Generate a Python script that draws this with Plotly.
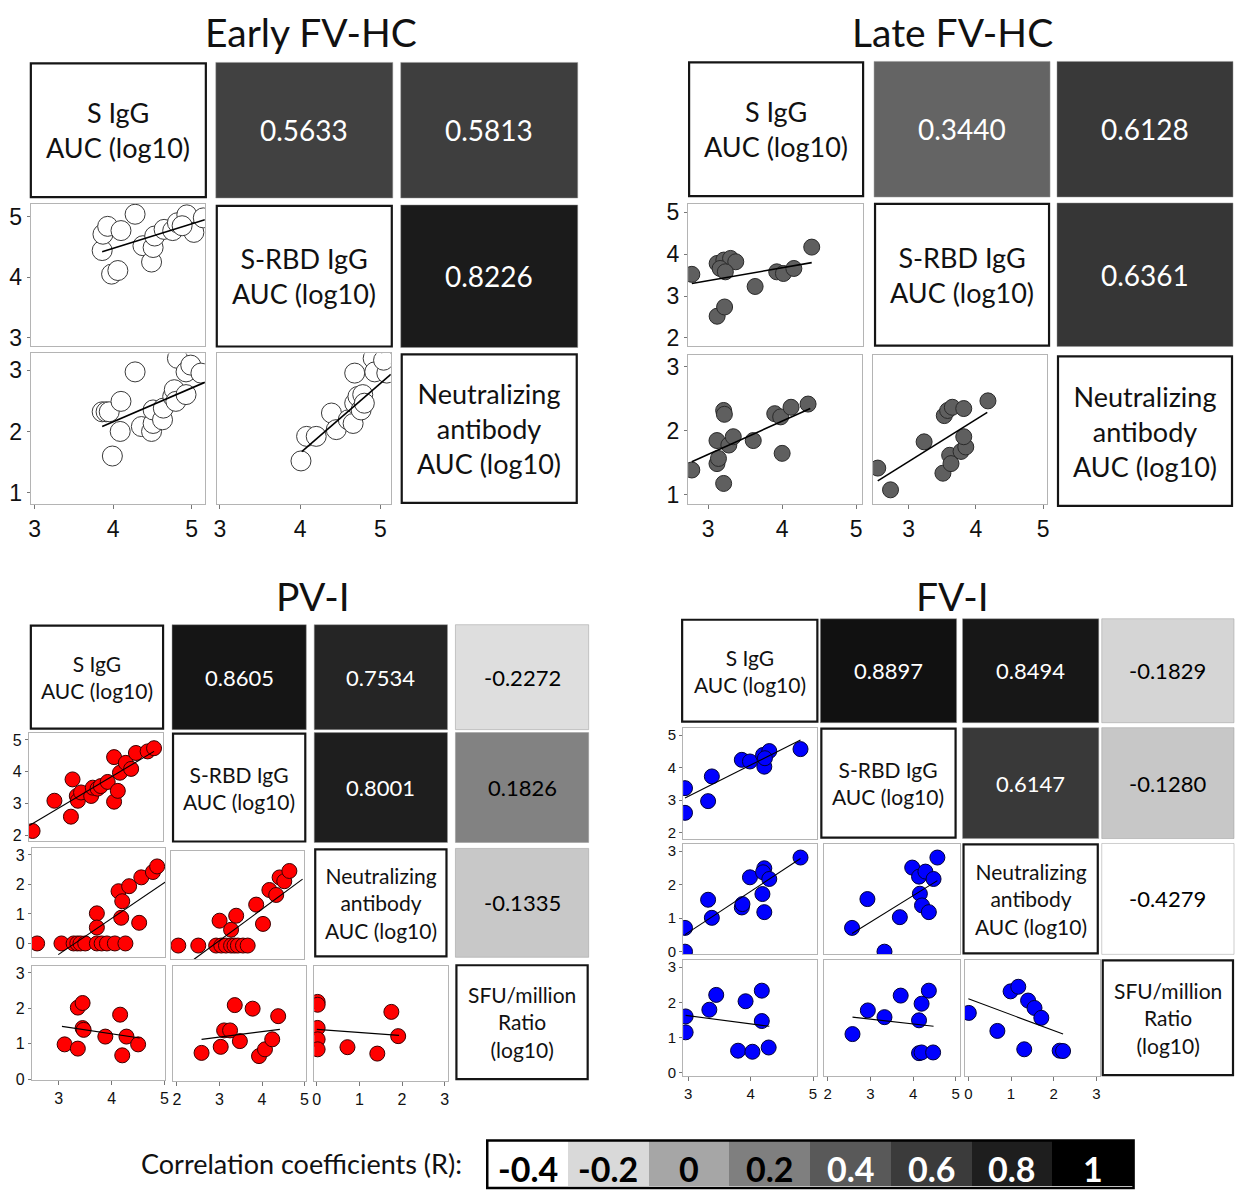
import plotly.graph_objects as go
from plotly.colors import sample_colorscale

W, H = 1238, 1194

# ---------------- DATA ----------------
var_labels_3 = ["S IgG<br>AUC (log10)", "S-RBD IgG<br>AUC (log10)",
                "Neutralizing<br>antibody<br>AUC (log10)"]
var_labels_4 = var_labels_3 + ["SFU/million<br>Ratio<br>(log10)"]

# correlation coefficients (upper triangle, row-major)
early_r = [0.5633, 0.5813, 0.8226]
late_r = [0.3440, 0.6128, 0.6361]
pvi_r = [0.8605, 0.7534, -0.2272, 0.8001, 0.1826, -0.1335]
fvi_r = [0.8897, 0.8494, -0.1829, 0.6147, -0.1280, -0.4279]

# Early FV-HC
e_sigg_srbd_x = [3.86, 3.87, 3.93, 4.10, 4.28, 3.98, 4.06, 4.38, 4.49, 4.51, 4.53, 4.65, 4.76, 4.82, 4.94, 5.03, 4.88, 5.15]
e_sigg_srbd_y = [4.44, 4.71, 4.84, 4.77, 5.04, 4.05, 4.11, 4.52, 4.25, 4.49, 4.68, 4.79, 4.77, 4.90, 5.03, 4.74, 4.85, 4.98]
e_sigg_srbd_fit_x = [3.86, 5.17]
e_sigg_srbd_fit_y = [4.42, 4.95]
e_sigg_neut_x = [3.86, 3.91, 3.95, 4.10, 4.28, 4.09, 3.99, 4.36, 4.49, 4.51, 4.51, 4.63, 4.64, 4.76, 4.78, 4.80, 4.93, 4.82, 4.93, 4.99, 5.12]
e_sigg_neut_y = [2.32, 2.32, 2.32, 2.49, 2.97, 2.00, 1.60, 2.08, 2.00, 2.13, 2.35, 2.19, 2.38, 2.57, 2.68, 2.49, 2.60, 3.19, 2.97, 3.08, 2.95]
e_sigg_neut_fit_x = [3.86, 5.17]
e_sigg_neut_fit_y = [2.08, 2.80]
e_srbd_neut_x = [4.01, 4.08, 4.20, 4.39, 4.45, 4.60, 4.66, 4.68, 4.72, 4.76, 4.78, 4.80, 4.68, 4.91, 4.93, 5.08, 5.04]
e_srbd_neut_y = [1.52, 1.92, 1.92, 2.30, 2.03, 2.19, 2.13, 2.46, 2.57, 2.35, 2.60, 2.46, 2.95, 3.19, 2.97, 2.95, 3.16]
e_srbd_neut_fit_x = [4.02, 5.13]
e_srbd_neut_fit_y = [1.67, 2.93]

# Late FV-HC
l_sigg_srbd_x = [2.78, 3.12, 3.22, 3.12, 3.21, 3.30, 3.37, 3.16, 3.23, 3.63, 3.92, 4.01, 4.15, 4.39]
l_sigg_srbd_y = [3.52, 2.52, 2.74, 3.78, 3.86, 3.90, 3.82, 3.66, 3.58, 3.23, 3.58, 3.54, 3.66, 4.17]
l_sigg_srbd_fit_x = [2.78, 4.39]
l_sigg_srbd_fit_y = [3.30, 3.80]
l_sigg_neut_x = [2.78, 3.12, 3.14, 3.12, 3.21, 3.22, 3.21, 3.28, 3.34, 3.61, 3.90, 3.98, 4.00, 4.12, 4.35]
l_sigg_neut_y = [1.39, 1.49, 1.57, 1.85, 2.32, 2.26, 1.18, 1.78, 1.91, 1.85, 2.27, 2.22, 1.65, 2.37, 2.42]
l_sigg_neut_fit_x = [2.78, 4.38]
l_sigg_neut_fit_y = [1.52, 2.35]
l_srbd_neut_x = [2.54, 2.73, 3.23, 3.51, 3.61, 3.63, 3.53, 3.58, 3.65, 3.82, 3.78, 3.85, 3.82, 4.18]
l_srbd_neut_y = [1.42, 1.08, 1.83, 1.34, 1.62, 1.49, 2.24, 2.32, 2.37, 2.35, 1.68, 1.75, 1.91, 2.47]
l_srbd_neut_fit_x = [2.54, 4.17]
l_srbd_neut_fit_y = [1.22, 2.29]

# PV-I
p_sigg_srbd_x = [2.56, 2.97, 3.28, 3.31, 3.39, 3.41, 3.47, 3.66, 3.69, 3.78, 3.84, 3.97, 4.09, 4.09, 4.16, 4.20, 4.31, 4.41, 4.50, 4.72, 4.84]
p_sigg_srbd_y = [2.14, 3.09, 2.59, 3.76, 3.24, 3.09, 3.35, 3.24, 3.50, 3.47, 3.55, 3.68, 4.46, 3.06, 3.40, 3.97, 4.28, 4.09, 4.59, 4.64, 4.74]
p_sigg_srbd_fit_x = [2.50, 4.84]
p_sigg_srbd_fit_y = [2.31, 4.64]
p_sigg_neut_x = [2.59, 3.05, 3.28, 3.35, 3.41, 3.50, 3.72, 3.81, 3.91, 4.06, 4.26, 3.72, 3.72, 4.13, 4.33, 4.20, 4.18, 4.52, 4.56, 4.78, 4.86]
p_sigg_neut_y = [0, 0, 0, 0, 0, 0, 0, 0, 0, 0, 0, 1.02, 0.54, 1.77, 1.94, 1.43, 0.87, 0.70, 2.24, 2.42, 2.61]
p_sigg_neut_fit_x = [2.99, 5.03]
p_sigg_neut_fit_y = [-0.38, 2.10]
p_srbd_neut_x = [2.08, 2.55, 2.97, 3.09, 3.20, 3.32, 3.40, 3.48, 3.60, 3.71, 3.05, 3.32, 3.44, 3.91, 4.07, 4.22, 4.38, 4.46, 4.57, 4.69]
p_srbd_neut_y = [0, 0, 0, 0, 0, 0, 0, 0, 0, 0, 0.85, 0.54, 1.02, 1.40, 0.74, 1.90, 1.73, 2.33, 2.20, 2.55]
p_srbd_neut_fit_x = [2.45, 5.00]
p_srbd_neut_fit_y = [-0.47, 2.27]
p_sigg_sfu_x = [3.11, 3.36, 3.36, 3.45, 3.45, 3.47, 3.88, 4.16, 4.20, 4.28, 4.50]
p_sigg_sfu_y = [0.98, 0.86, 2.02, 2.15, 1.44, 1.39, 1.20, 1.82, 0.67, 1.20, 0.98]
p_sigg_sfu_fit_x = [3.06, 4.53]
p_sigg_sfu_fit_y = [1.49, 1.16]
p_srbd_sfu_x = [2.58, 3.03, 3.11, 3.25, 3.36, 3.48, 3.78, 3.93, 4.07, 4.24, 4.38]
p_srbd_sfu_y = [0.76, 0.93, 1.39, 1.39, 2.10, 1.09, 2.00, 0.67, 0.86, 1.14, 1.79]
p_srbd_sfu_fit_x = [2.58, 4.42]
p_srbd_sfu_fit_y = [1.14, 1.42]
p_neut_sfu_x = [0.02, 0.02, 0.02, 0.02, 0.02, 0.72, 1.42, 1.75, 1.91]
p_neut_sfu_y = [2.19, 2.11, 1.46, 1.14, 0.86, 0.92, 0.74, 1.91, 1.23]
p_neut_sfu_fit_x = [0.0, 1.93]
p_neut_sfu_fit_y = [1.42, 1.25]

# FV-I
f_sigg_srbd_x = [2.95, 2.95, 3.32, 3.38, 3.86, 3.99, 4.20, 4.22, 4.30, 4.23, 4.80]
f_sigg_srbd_y = [3.37, 2.61, 2.97, 3.73, 4.24, 4.19, 4.39, 4.03, 4.51, 4.29, 4.57]
f_sigg_srbd_fit_x = [2.95, 4.80]
f_sigg_srbd_fit_y = [3.07, 4.85]
f_sigg_neut_x = [2.95, 2.95, 3.32, 3.38, 3.86, 3.87, 3.99, 4.19, 4.22, 4.22, 4.20, 4.30, 4.80]
f_sigg_neut_y = [0.71, 0.00, 1.55, 1.01, 1.32, 1.42, 2.22, 1.72, 1.18, 2.49, 2.37, 2.17, 2.81]
f_sigg_neut_fit_x = [2.95, 4.80]
f_sigg_neut_fit_y = [0.51, 2.78]
f_srbd_neut_x = [2.57, 2.93, 3.33, 3.69, 3.98, 4.14, 4.29, 4.16, 4.21, 4.37, 4.48, 4.57]
f_srbd_neut_y = [0.71, 1.57, 0.00, 1.03, 2.51, 2.24, 2.39, 1.73, 1.38, 1.18, 2.17, 2.81]
f_srbd_neut_fit_x = [2.57, 4.57]
f_srbd_neut_fit_y = [0.54, 2.12]
f_sigg_sfu_x = [2.96, 2.96, 3.34, 3.45, 3.80, 3.92, 4.03, 4.18, 4.18, 4.29]
f_sigg_sfu_y = [1.60, 1.15, 1.79, 2.21, 0.63, 2.03, 0.60, 2.33, 1.47, 0.72]
f_sigg_sfu_fit_x = [2.96, 4.30]
f_sigg_sfu_fit_y = [1.63, 1.32]
f_srbd_sfu_x = [2.58, 2.94, 3.33, 3.71, 4.14, 4.20, 4.37, 4.14, 4.20, 4.47]
f_srbd_sfu_y = [1.10, 1.77, 1.58, 2.19, 1.49, 1.96, 2.33, 0.56, 0.58, 0.58]
f_srbd_sfu_fit_x = [2.58, 4.48]
f_srbd_sfu_fit_y = [1.58, 1.32]
f_neut_sfu_x = [0.01, 0.68, 0.99, 1.17, 1.40, 1.55, 1.71, 1.31, 2.14, 2.22]
f_neut_sfu_y = [1.70, 1.19, 2.31, 2.44, 2.05, 1.84, 1.56, 0.67, 0.63, 0.62]
f_neut_sfu_fit_x = [0.0, 2.22]
f_neut_sfu_fit_y = [2.10, 1.10]

# legend
legend_vals = [-0.4, -0.2, 0, 0.2, 0.4, 0.6, 0.8, 1]
legend_tick_labels = ["-0.4", "-0.2", "0", "0.2", "0.4", "0.6", "0.8", "1"]
legend_colors = ["rgb(255,255,255)", "rgb(217,217,217)", "rgb(166,166,166)", "rgb(127,127,127)",
                 "rgb(89,89,89)", "rgb(59,59,59)", "rgb(30,30,30)", "rgb(0,0,0)"]

# ---------------- STYLE / LAYOUT ----------------
RMIN, RMAX = legend_vals[0], legend_vals[-1]
colorscale = [[(v - RMIN) / (RMAX - RMIN), c] for v, c in zip(legend_vals, legend_colors)]


def r_color(r):
    t = min(max((r - RMIN) / (RMAX - RMIN), 0.0), 1.0)
    return sample_colorscale(colorscale, [t])[0]


def text_color(r):
    return "white" if r >= 0.3 else "black"


def px(x):
    return x / W


def py(y):
    return 1 - y / H


TEXT_FONT = "Lato, Carlito, Calibri, 'Open Sans', sans-serif"
TICK_FONT = "Liberation Sans, Arial, Helvetica, sans-serif"

panels = [
    dict(title="Early FV-HC", tx=310, ty=28,
         labels=var_labels_3, r=early_r,
         cols=[(27, 205), (214, 392), (400, 578)],
         rows=[(59, 196), (203, 347), (353, 505)],
         frames={(1, 0): (28, 203, 202, 345), (2, 0): (28, 203, 353, 505), (2, 1): (215, 390, 353, 505)},
         xr=[[2.95, 5.17], [2.96, 5.13]], yr=[None, [2.87, 5.21], [0.82, 3.27]],
         xt=[[3, 4, 5], [3, 4, 5]], yt=[None, [3, 4, 5], [1, 2, 3]],
         data={(1, 0): (e_sigg_srbd_x, e_sigg_srbd_y, e_sigg_srbd_fit_x, e_sigg_srbd_fit_y),
               (2, 0): (e_sigg_neut_x, e_sigg_neut_y, e_sigg_neut_fit_x, e_sigg_neut_fit_y),
               (2, 1): (e_srbd_neut_x, e_srbd_neut_y, e_srbd_neut_fit_x, e_srbd_neut_fit_y)},
         marker=dict(color="white", size=20, line=dict(color="#3a3a3a", width=1)),
         fs_label=27, fs_r=28, fs_tick=23, lw=1.6),
    dict(title="Late FV-HC", tx=955, ty=28,
         labels=var_labels_3, r=late_r,
         cols=[(689, 866), (876, 1053), (1060, 1237)],
         rows=[(58, 195), (201, 346), (355, 508)],
         frames={(1, 0): (689, 865, 202, 345), (2, 0): (689, 864, 355, 505), (2, 1): (875, 1050, 355, 505)},
         xr=[[2.73, 5.08], [2.47, 5.06]], yr=[None, [1.82, 5.20], [0.86, 3.18]],
         xt=[[3, 4, 5], [3, 4, 5]], yt=[None, [2, 3, 4, 5], [1, 2, 3]],
         data={(1, 0): (l_sigg_srbd_x, l_sigg_srbd_y, l_sigg_srbd_fit_x, l_sigg_srbd_fit_y),
               (2, 0): (l_sigg_neut_x, l_sigg_neut_y, l_sigg_neut_fit_x, l_sigg_neut_fit_y),
               (2, 1): (l_srbd_neut_x, l_srbd_neut_y, l_srbd_neut_fit_x, l_srbd_neut_fit_y)},
         marker=dict(color="#5f5f5f", size=16, line=dict(color="#2a2a2a", width=1)),
         fs_label=27, fs_r=28, fs_tick=23, lw=1.6),
    dict(title="PV-I", tx=312, ty=598,
         labels=var_labels_4, r=pvi_r,
         cols=[(27, 162), (170, 305), (313, 447), (455, 589)],
         rows=[(627, 733), (736, 847), (853, 963), (970, 1087)],
         frames={(1, 0): (26, 161, 736, 846), (2, 0): (29, 163, 853, 963), (2, 1): (169, 303, 856, 965),
                 (3, 0): (29, 163, 972, 1087), (3, 1): (171, 305, 972, 1088), (3, 2): (313, 448, 972, 1088)},
         xr=[[2.49, 5.01], [1.91, 5.04], [-0.06, 3.09]],
         yr=[None, [1.81, 5.23], [-0.47, 3.22], [-0.03, 3.19]],
         xt=[[3, 4, 5], [2, 3, 4, 5], [0, 1, 2, 3]], yt=[None, [2, 3, 4, 5], [0, 1, 2, 3], [0, 1, 2, 3]],
         data={(1, 0): (p_sigg_srbd_x, p_sigg_srbd_y, p_sigg_srbd_fit_x, p_sigg_srbd_fit_y),
               (2, 0): (p_sigg_neut_x, p_sigg_neut_y, p_sigg_neut_fit_x, p_sigg_neut_fit_y),
               (2, 1): (p_srbd_neut_x, p_srbd_neut_y, p_srbd_neut_fit_x, p_srbd_neut_fit_y),
               (3, 0): (p_sigg_sfu_x, p_sigg_sfu_y, p_sigg_sfu_fit_x, p_sigg_sfu_fit_y),
               (3, 1): (p_srbd_sfu_x, p_srbd_sfu_y, p_srbd_sfu_fit_x, p_srbd_sfu_fit_y),
               (3, 2): (p_neut_sfu_x, p_neut_sfu_y, p_neut_sfu_fit_x, p_neut_sfu_fit_y)},
         marker=dict(color="#ff0000", size=15, line=dict(color="#3a0000", width=1)),
         fs_label=21, fs_r=22, fs_tick=16, lw=1.1),
    dict(title="FV-I", tx=955, ty=598,
         labels=var_labels_4, r=fvi_r,
         cols=[(682, 820), (822, 959), (965, 1102), (1105, 1238)],
         rows=[(621, 726), (731, 843), (848, 960), (965, 1083)],
         frames={(1, 0): (684, 819, 731, 843), (2, 0): (684, 819, 849, 960), (2, 1): (826, 962, 849, 960),
                 (3, 0): (684, 819, 966, 1083), (3, 1): (826, 962, 966, 1083), (3, 2): (967, 1103, 966, 1083)},
         xr=[[2.92, 5.07], [1.92, 5.09], [-0.09, 3.08]],
         yr=[None, [1.82, 5.23], [-0.08, 3.20], [-0.09, 3.19]],
         xt=[[3, 4, 5], [2, 3, 4, 5], [0, 1, 2, 3]], yt=[None, [2, 3, 4, 5], [0, 1, 2, 3], [0, 1, 2, 3]],
         data={(1, 0): (f_sigg_srbd_x, f_sigg_srbd_y, f_sigg_srbd_fit_x, f_sigg_srbd_fit_y),
               (2, 0): (f_sigg_neut_x, f_sigg_neut_y, f_sigg_neut_fit_x, f_sigg_neut_fit_y),
               (2, 1): (f_srbd_neut_x, f_srbd_neut_y, f_srbd_neut_fit_x, f_srbd_neut_fit_y),
               (3, 0): (f_sigg_sfu_x, f_sigg_sfu_y, f_sigg_sfu_fit_x, f_sigg_sfu_fit_y),
               (3, 1): (f_srbd_sfu_x, f_srbd_sfu_y, f_srbd_sfu_fit_x, f_srbd_sfu_fit_y),
               (3, 2): (f_neut_sfu_x, f_neut_sfu_y, f_neut_sfu_fit_x, f_neut_sfu_fit_y)},
         marker=dict(color="#0000ff", size=15, line=dict(color="#00003a", width=1)),
         fs_label=21, fs_r=22, fs_tick=15, lw=1.1),
]

fig = go.Figure()
shapes, annotations, axes = [], [], {}
n = 2

for p in panels:
    nv = len(p["labels"])
    annotations.append(dict(x=px(p["tx"]), y=py(p["ty"]), xref="paper", yref="paper",
                            text=p["title"], showarrow=False, xanchor="center", yanchor="middle",
                            font=dict(family=TEXT_FONT, size=39, color="#111")))
    k = 0
    for i in range(nv):
        for j in range(nv):
            x0, x1 = p["cols"][j]
            y0, y1 = p["rows"][i]
            if i == j:
                shapes.append(dict(type="rect", xref="paper", yref="paper",
                                   x0=px(x0 + 1), x1=px(x1 - 1), y0=py(y1 - 1), y1=py(y0 + 1),
                                   line=dict(color="#151515", width=2.2), fillcolor="white"))
                annotations.append(dict(x=px((x0 + x1) / 2), y=py((y0 + y1) / 2), xref="paper", yref="paper",
                                        text=p["labels"][i], showarrow=False, xanchor="center",
                                        yanchor="middle", align="center",
                                        font=dict(family=TEXT_FONT, size=p["fs_label"], color="#111")))
            elif j > i:
                r = p["r"][k]
                k += 1
                shapes.append(dict(type="rect", xref="paper", yref="paper",
                                   x0=px(x0), x1=px(x1), y0=py(y1), y1=py(y0),
                                   line=dict(color="rgba(150,150,150,0.6)", width=0.8), fillcolor=r_color(r)))
                annotations.append(dict(x=px((x0 + x1) / 2), y=py((y0 + y1) / 2), xref="paper", yref="paper",
                                        text=f"{r:.4f}", showarrow=False, xanchor="center", yanchor="middle",
                                        font=dict(family=TEXT_FONT, size=p["fs_r"], color=text_color(r))))
    for (i, j), (xs, ys, fx, fy) in p["data"].items():
        fx0, fx1, fy0, fy1 = p["frames"][(i, j)]
        bottom = (i == nv - 1)
        left = (j == 0)
        axes[f"xaxis{n}"] = dict(domain=[px(fx0), px(fx1)], range=p["xr"][j], anchor=f"y{n}",
                                 showgrid=False, zeroline=False, showline=True, mirror=True,
                                 linecolor="#b4b4b4", linewidth=1.2,
                                 ticks="outside" if bottom else "", ticklen=4, tickcolor="#777",
                                 tickvals=p["xt"][j], showticklabels=bottom,
                                 tickfont=dict(family=TICK_FONT, size=p["fs_tick"], color="#111"),
                                 fixedrange=True)
        axes[f"yaxis{n}"] = dict(domain=[py(fy1), py(fy0)], range=p["yr"][i], anchor=f"x{n}",
                                 showgrid=False, zeroline=False, showline=True, mirror=True,
                                 linecolor="#b4b4b4", linewidth=1.2,
                                 ticks="outside" if left else "", ticklen=3, tickcolor="#777",
                                 tickvals=p["yt"][i], showticklabels=left,
                                 tickfont=dict(family=TICK_FONT, size=p["fs_tick"], color="#111"),
                                 fixedrange=True)
        fig.add_trace(go.Scatter(x=xs, y=ys, mode="markers", marker=p["marker"],
                                 xaxis=f"x{n}", yaxis=f"y{n}", showlegend=False, hoverinfo="skip"))
        fig.add_trace(go.Scatter(x=fx, y=fy, mode="lines", line=dict(color="black", width=p["lw"]),
                                 xaxis=f"x{n}", yaxis=f"y{n}", showlegend=False, hoverinfo="skip"))
        n += 1

# ---------------- LEGEND (colour key) ----------------
lx0, lx1, ly0 = 487, 1137, 1148
fig.add_trace(go.Heatmap(z=[legend_vals], x=list(range(len(legend_vals))), y=[0],
                         colorscale=colorscale, zmin=RMIN, zmax=RMAX, showscale=False,
                         xaxis=f"x{n}", yaxis=f"y{n}", hoverinfo="skip"))
axes[f"xaxis{n}"] = dict(domain=[px(lx0), px(lx1)], range=[-0.5, len(legend_vals) - 0.5],
                         visible=False, anchor=f"y{n}", fixedrange=True)
axes[f"yaxis{n}"] = dict(domain=[0, py(ly0)], range=[-0.5, 0.5], visible=False,
                         anchor=f"x{n}", fixedrange=True)
for idx, (v, lab) in enumerate(zip(legend_vals, legend_tick_labels)):
    annotations.append(dict(x=idx, y=py(1176), xref=f"x{n}", yref="paper", text=f"<b>{lab}</b>",
                            showarrow=False, xanchor="center", yanchor="middle",
                            font=dict(family=TEXT_FONT, size=34, color=text_color(v))))
shapes.append(dict(type="rect", xref="paper", yref="paper", x0=px(lx0), x1=px(lx1),
                   y0=py(1196), y1=py(ly0), line=dict(color="black", width=2.5), fillcolor="rgba(0,0,0,0)"))
annotations.append(dict(x=px(300), y=py(1171), xref="paper", yref="paper",
                        text="Correlation coefficients (R):", showarrow=False,
                        xanchor="center", yanchor="middle",
                        font=dict(family=TEXT_FONT, size=27, color="#111")))

fig.update_layout(width=W, height=H, autosize=False, margin=dict(l=0, r=0, t=0, b=0, pad=0),
                  paper_bgcolor="white", plot_bgcolor="white", showlegend=False,
                  xaxis=dict(visible=False), yaxis=dict(visible=False),
                  shapes=shapes, annotations=annotations, **axes)

fig.write_html("out.html")
